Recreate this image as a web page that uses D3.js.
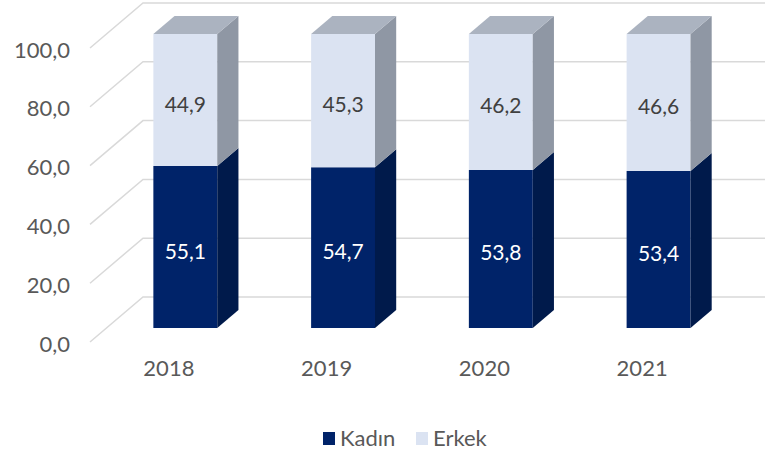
<!DOCTYPE html>
<html>
<head>
<meta charset="utf-8">
<script src="https://cdn.jsdelivr.net/npm/d3@7"></script>
<style>
  html, body { margin: 0; padding: 0; background: #ffffff; }
  svg { display: block; font-family: Lato, "Open Sans", sans-serif; }
</style>
</head>
<body>
<div id="chart"></div>
<script>
// 3D stacked column chart — Kadın / Erkek shares by year

const years = ['2018', '2019', '2020', '2021'];
const kadin = [55.1, 54.7, 53.8, 53.4];
const erkek = [44.9, 45.3, 46.2, 46.6];
const yTicks = [0, 20, 40, 60, 80, 100];
const seriesNames = ['Kadın', 'Erkek'];

const width = 765, height = 456;

// oblique "3D" projection: depth 0 = front plane, 1 = back wall
const depthX = 53, depthY = 45;
const barFront = 0.31, barBack = 0.71;

const colors = {
    kadin: { front: '#002369', side: '#001a4b', top: '#0a2d6e' },
    erkek: { front: '#dbe3f2', side: '#8f97a4', top: '#abb3c0' }
};

const locale = d3.formatLocale({ decimal: ',', thousands: '.', grouping: [3], currency: ['', '₺'] });
const fmt = locale.format('.1f');

const svg = d3.select('#chart').append('svg')
    .attr('width', width)
    .attr('height', height);

const x = d3.scaleBand().domain(years).range([90, 721]);
const y = d3.scaleLinear().domain([0, 100]).range([342, 48]);

function proj(px, v, d) {
    return [px + d * depthX, y(v) - d * depthY];
}

// 1. gridlines on the floor/back wall
const grid = svg.append('g').attr('class', 'grid');
yTicks.forEach(function(t) {
    const a = proj(x.range()[0], t, 0);
    const b = proj(x.range()[0], t, 1);
    grid.append('path')
        .attr('d', 'M' + a + 'L' + b + 'L' + [width, b[1]])
        .attr('fill', 'none')
        .attr('stroke', '#d9d9d9')
        .attr('stroke-width', 1.5);
});

// 2. bars
const barW = x.bandwidth() * 0.405;

function drawBox(g, cx, v0, v1, c, withTop) {
    const x0 = cx - barW / 2, x1 = cx + barW / 2;
    const p = (px, v, d) => proj(px, v, d).join(',');
    // front
    g.append('path')
        .attr('d', 'M' + p(x0, v0, barFront) + 'L' + p(x1, v0, barFront) + 'L' + p(x1, v1, barFront) + 'L' + p(x0, v1, barFront) + 'Z')
        .attr('fill', c.front);
    // right side
    g.append('path')
        .attr('d', 'M' + p(x1, v0, barFront) + 'L' + p(x1, v0, barBack) + 'L' + p(x1, v1, barBack) + 'L' + p(x1, v1, barFront) + 'Z')
        .attr('fill', c.side);
    if (withTop) {
        g.append('path')
            .attr('d', 'M' + p(x0, v1, barFront) + 'L' + p(x1, v1, barFront) + 'L' + p(x1, v1, barBack) + 'L' + p(x0, v1, barBack) + 'Z')
            .attr('fill', c.top);
    }
}

const bars = svg.append('g').attr('class', 'bars');
years.forEach(function(yr, i) {
    const cx = x(yr) + x.bandwidth() / 2;
    const g = bars.append('g');
    drawBox(g, cx, 0, kadin[i], colors.kadin, false);
    drawBox(g, cx, kadin[i], kadin[i] + erkek[i], colors.erkek, true);

    // data labels, centered on front face
    const fx = cx + barFront * depthX;
    const mid1 = (y(0) + y(kadin[i])) / 2 - barFront * depthY;
    const mid2 = (y(kadin[i]) + y(kadin[i] + erkek[i])) / 2 - barFront * depthY;
    g.append('text')
        .attr('x', fx).attr('y', mid1 + 3)
        .attr('text-anchor', 'middle')
        .attr('dominant-baseline', 'central')
        .attr('font-size', '21px')
        .attr('fill', '#ffffff')
        .text(fmt(kadin[i]));
    g.append('text')
        .attr('x', fx).attr('y', mid2 + 3)
        .attr('text-anchor', 'middle')
        .attr('dominant-baseline', 'central')
        .attr('font-size', '21px')
        .attr('fill', '#404040')
        .text(fmt(erkek[i]));
});

// 3. axes
const yAxis = svg.append('g')
    .attr('transform', 'translate(70,2)')
    .call(d3.axisLeft(y).tickValues(yTicks).tickFormat(fmt).tickSize(0).tickPadding(0));
yAxis.select('.domain').remove();
yAxis.selectAll('text')
    .attr('font-size', '22px')
    .attr('font-family', 'Lato, sans-serif')
    .attr('fill', '#595959');

const xAxis = svg.append('g')
    .attr('transform', 'translate(0,' + y(0) + ')')
    .call(d3.axisBottom(x).tickSize(0).tickPadding(18));
xAxis.select('.domain').remove();
xAxis.selectAll('text')
    .attr('font-size', '22px')
    .attr('font-family', 'Lato, sans-serif')
    .attr('fill', '#595959');

// 4. legend
const legend = svg.append('g').attr('class', 'legend');
const legendX = [323, 416];
const legendColors = [colors.kadin.front, colors.erkek.front];
seriesNames.forEach(function(name, i) {
    legend.append('rect')
        .attr('x', legendX[i]).attr('y', 432)
        .attr('width', 12).attr('height', 13)
        .attr('fill', legendColors[i]);
    legend.append('text')
        .attr('x', legendX[i] + 17).attr('y', 446)
        .attr('font-size', '22px')
        .attr('fill', '#595959')
        .text(name);
});
</script>
</body>
</html>
